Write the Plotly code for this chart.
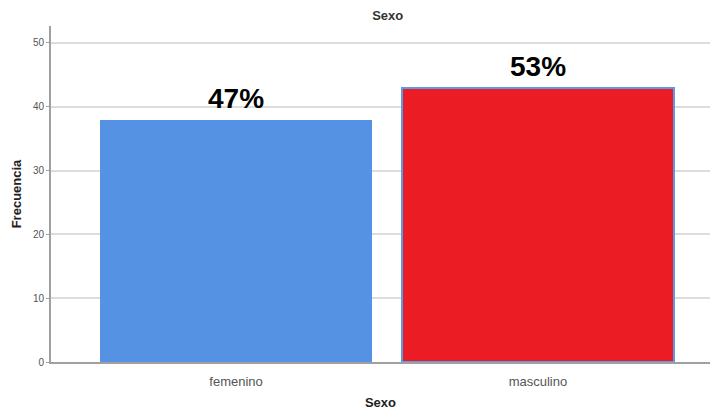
import plotly.graph_objects as go

categories = ["femenino", "masculino"]
frequencies = [38, 43]
pct_labels = ["47%", "53%"]
bar_colors = ["#5592E3", "#EC1C24"]
outline_colors = ["#5592E3", "#5A9BE8"]
outline_widths = [0, 2]
y_ticks = [0, 10, 20, 30, 40, 50]

FONT = "Liberation Sans, Arial, sans-serif"

fig = go.Figure()
fig.add_trace(go.Bar(
    x=[0, 1],
    y=frequencies,
    width=0.9,
    marker=dict(color=bar_colors, line=dict(color=outline_colors, width=outline_widths)),
    showlegend=False,
    hoverinfo="skip",
))

for i, (v, t) in enumerate(zip(frequencies, pct_labels)):
    fig.add_annotation(
        x=i, y=v, text=f"<b>{t}</b>", showarrow=False,
        yanchor="bottom", yshift=4,
        font=dict(family=FONT, size=28, color="#000000"),
    )

fig.update_layout(
    width=710, height=410,
    margin=dict(l=51, r=0, t=26, b=48),
    paper_bgcolor="white", plot_bgcolor="white",
    title=dict(text="<b>Sexo</b>", x=0.511, xref="paper", y=0.963, yref="container",
               xanchor="center", yanchor="middle",
               font=dict(family=FONT, size=13, color="#333333")),
    bargap=0,
)
fig.update_xaxes(
    range=[-0.613, 1.57],
    tickmode="array", tickvals=[0, 1], ticktext=categories,
    showline=True, linecolor="#A0A0A0", linewidth=2,
    showgrid=False, zeroline=False, ticks="",
    ticklabelstandoff=6, automargin=False,
    tickfont=dict(family=FONT, size=13, color="#555555"),
    title=dict(text="<b>Sexo</b>", standoff=14,
               font=dict(family=FONT, size=13, color="#222222")),
)
fig.update_yaxes(
    range=[0, 52.66],
    tickmode="array", tickvals=y_ticks,
    showline=True, linecolor="#A0A0A0", linewidth=2,
    showgrid=True, gridcolor="#DDDDDD", gridwidth=1.5,
    zeroline=False, ticks="outside", ticklen=3, tickcolor="#A0A0A0",
    automargin=False,
    tickfont=dict(family=FONT, size=10, color="#555555"),
    title=dict(text="<b>Frecuencia</b>", standoff=8,
               font=dict(family=FONT, size=13, color="#222222")),
)

fig.write_html("out.html")
